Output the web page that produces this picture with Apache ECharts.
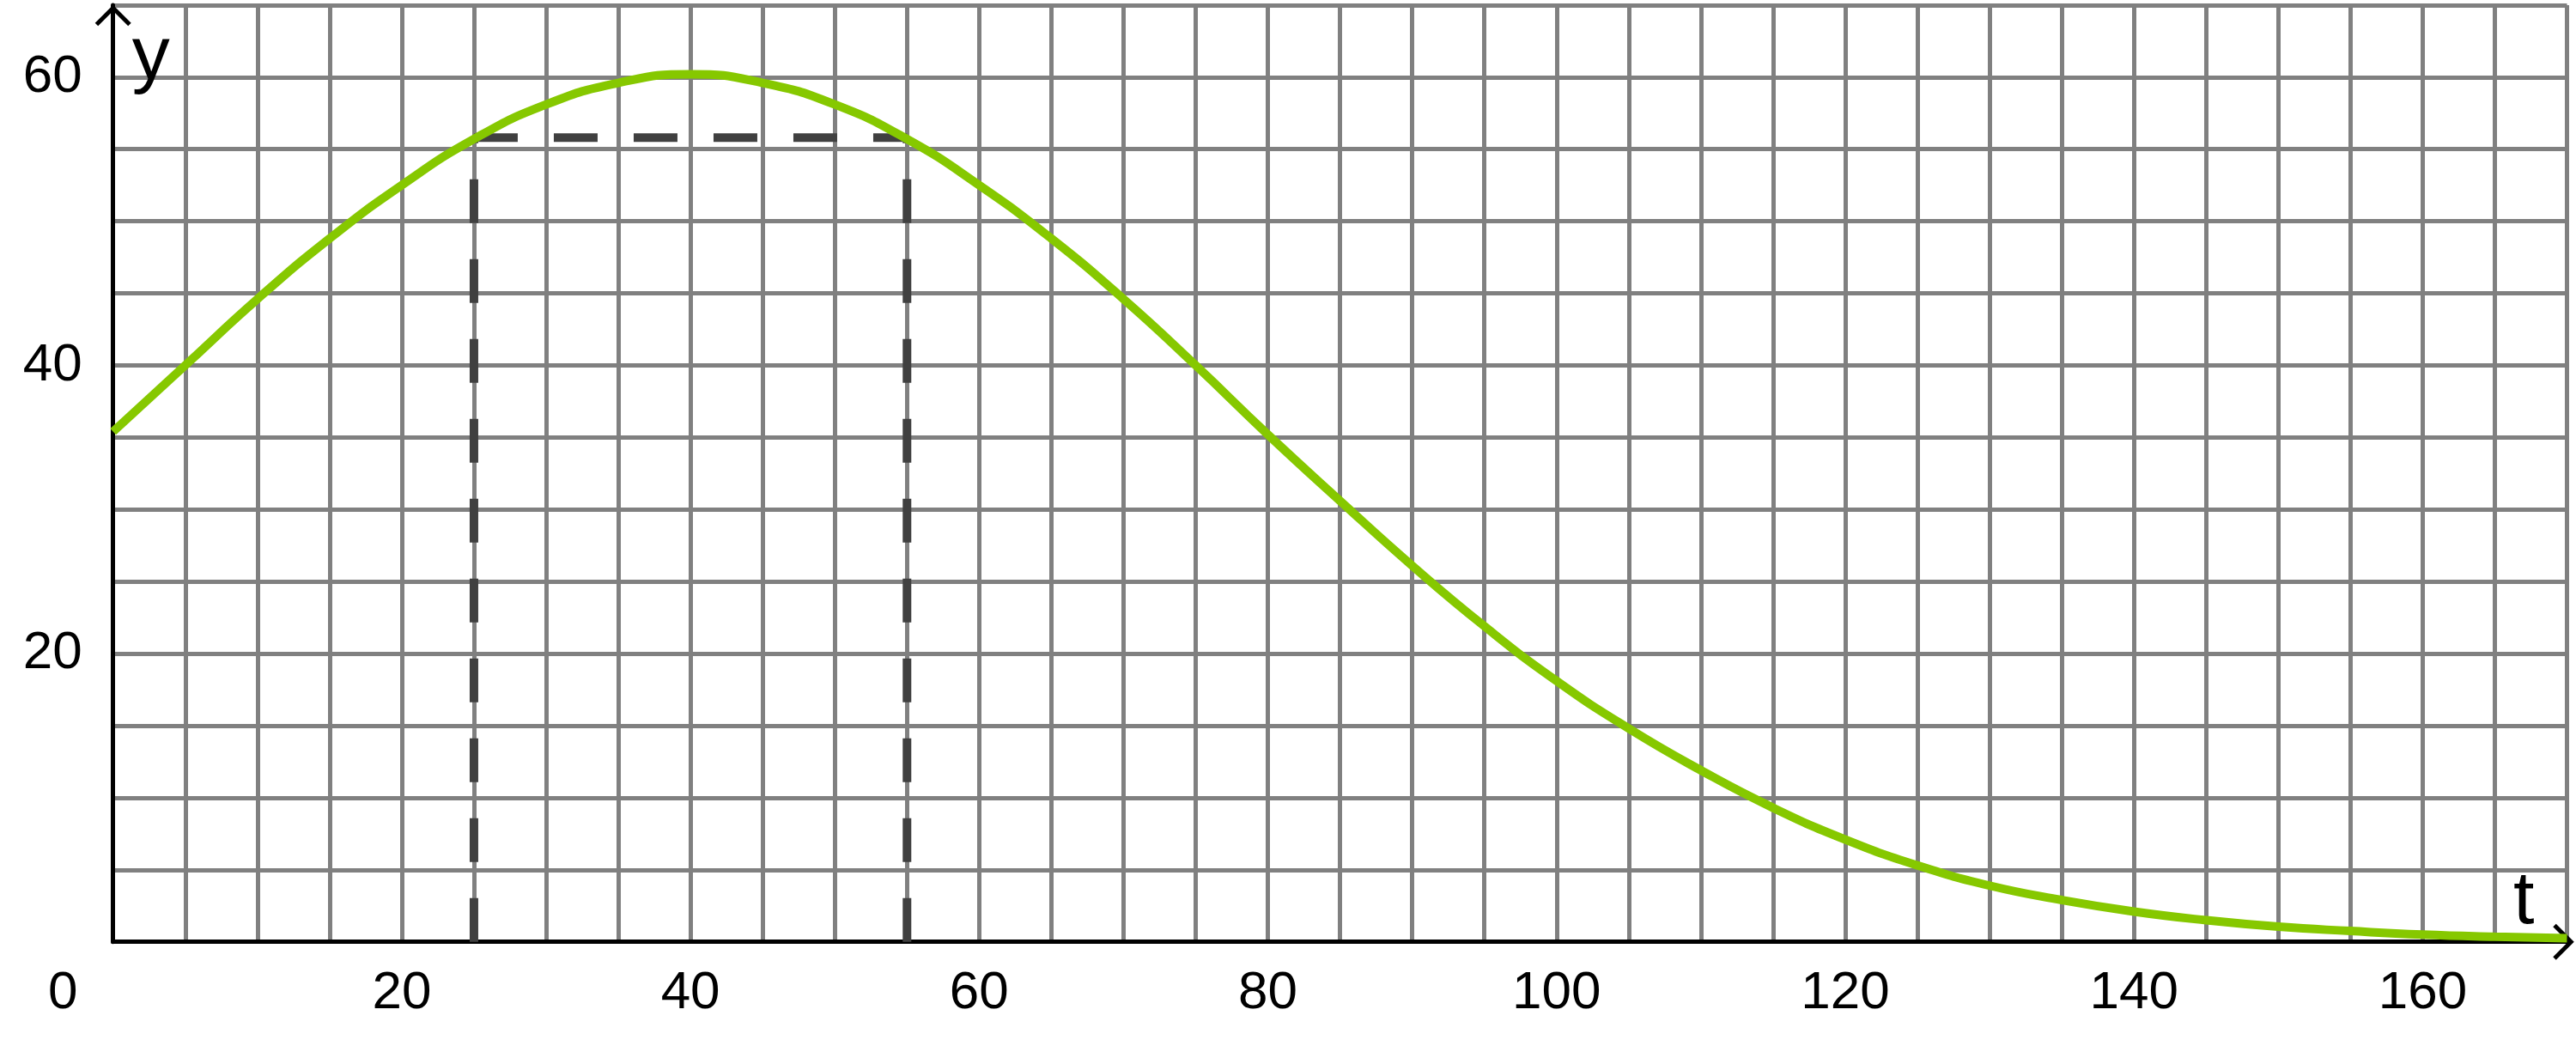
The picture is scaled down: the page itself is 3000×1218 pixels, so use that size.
<!DOCTYPE html>
<html>
<head>
<meta charset="utf-8">
<script src="https://cdn.jsdelivr.net/npm/echarts@6/dist/echarts.min.js"></script>
<style>
  html, body { margin: 0; padding: 0; background: #fff; }
  #chart { width: 3000px; height: 1218px; }
</style>
</head>
<body>
<div id="chart"></div>
<script>
// curve, one value every 5 units of t
const tValues = [0, 5, 10, 15, 20, 25, 30, 35, 40, 45, 50, 55, 60, 65, 70, 75, 80, 85,
  90, 95, 100, 105, 110, 115, 120, 125, 130, 135, 140, 145, 150, 155, 160, 165, 170]
const yValues = [35.4, 40.0, 44.6, 48.8, 52.5, 55.7, 58.1, 59.6, 60.2, 59.6, 58.1, 55.7,
  52.5, 48.8, 44.6, 40.0, 35.2, 30.6, 26.1, 21.9, 18.1, 14.8, 11.9, 9.3, 7.1, 5.3,
  3.9, 2.9, 2.1, 1.5, 1.05, 0.75, 0.5, 0.35, 0.25]

// dashed guides: two times and the level where they hit the curve
const guideTimes = [25, 55]
const guideLevel = 55.8

// axes
const xRange = [0, 170]
const yRange = [0, 65]
const gridStep = 5
const xLabelStep = 20
const yLabelStep = 20
const xName = 't'
const yName = 'y'

const FONT = '"Liberation Sans", Arial, Helvetica, sans-serif'
const GRID_GRAY = '#808080'
const CURVE_GREEN = '#86c800'
const GUIDE_GRAY = '#404040'
// open chevron used as the arrow head on both axes (points up, echarts rotates it)
const CHEVRON = 'path://M0,21 L21,0 L42,21 L38.5,24.5 L21,7 L3.5,24.5 Z'

const chart = echarts.init(document.getElementById('chart'), null, { renderer: 'canvas' })

const pairs = tValues.map((t, i) => [t, yValues[i]])

const guideSeries = (points) => ({
  type: 'line',
  data: points,
  symbol: 'none',
  silent: true,
  z: 3,
  lineStyle: { color: GUIDE_GRAY, width: 10, type: [51, 42], cap: 'butt' },
})

const option = {
  animation: false,
  backgroundColor: '#fff',
  grid: { left: 131.7, right: 10.5, top: 5.9, bottom: 121.3, containLabel: false },
  xAxis: {
    type: 'value',
    min: xRange[0],
    max: xRange[1],
    interval: gridStep,
    name: xName,
    nameLocation: 'end',
    nameGap: -38,
    nameMoveOverlap: false,
    nameTextStyle: {
      fontFamily: FONT, fontSize: 88, color: '#000', lineHeight: 88,
      align: 'right', verticalAlign: 'bottom', padding: [0, 0, 2, 0],
    },
    axisLine: {
      show: true, onZero: false,
      symbol: ['none', CHEVRON], symbolSize: [42, 24.5], symbolOffset: [0, -4],
      lineStyle: { color: '#000', width: 5 },
    },
    axisTick: { show: false },
    splitLine: { show: true, lineStyle: { color: GRID_GRAY, width: 5 } },
    axisLabel: {
      margin: 29,
      fontFamily: FONT, fontSize: 62, lineHeight: 62, color: '#000',
      formatter: (v) => {
        if (v % xLabelStep !== 0) return ''
        // the origin label sits left of the axis corner
        return v === 0 ? '{o|0}' : String(v)
      },
      rich: {
        o: { fontFamily: FONT, fontSize: 62, lineHeight: 62, color: '#000', padding: [0, 117, 0, 0] },
      },
    },
  },
  yAxis: {
    type: 'value',
    min: yRange[0],
    max: yRange[1],
    interval: gridStep,
    name: yName,
    nameLocation: 'end',
    nameGap: -17.6,
    nameMoveOverlap: false,
    nameTextStyle: {
      fontFamily: FONT, fontSize: 88, color: '#000', lineHeight: 88,
      align: 'left', verticalAlign: 'top', padding: [0, 0, 0, 22],
    },
    axisLine: {
      show: true, onZero: false,
      symbol: ['none', CHEVRON], symbolSize: [42, 24.5], symbolOffset: [0, -12],
      lineStyle: { color: '#000', width: 5 },
    },
    axisTick: { show: false },
    splitLine: { show: true, lineStyle: { color: GRID_GRAY, width: 5 } },
    axisLabel: {
      margin: 36,
      fontFamily: FONT, fontSize: 62, lineHeight: 62, color: '#000',
      formatter: (v) => (v !== 0 && v % yLabelStep === 0 ? String(v) : ''),
    },
  },
  series: [
    // verticals are drawn from the axis upward, the horizontal left to right
    guideSeries([[guideTimes[0], 0], [guideTimes[0], guideLevel]]),
    guideSeries([[guideTimes[1], 0], [guideTimes[1], guideLevel]]),
    guideSeries([[guideTimes[0], guideLevel], [guideTimes[1], guideLevel]]),
    {
      type: 'line',
      data: pairs,
      smooth: 0.5,
      symbol: 'none',
      silent: true,
      z: 4,
      lineStyle: { color: CURVE_GREEN, width: 10 },
    },
  ],
}

chart.setOption(option)
</script>
</body>
</html>
